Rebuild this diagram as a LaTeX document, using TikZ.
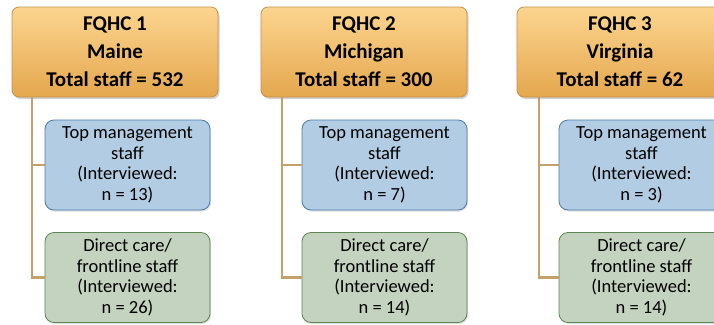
\documentclass[tikz,border=0pt]{standalone}
\usepackage{fontspec}
\setmainfont{Carlito}
\usetikzlibrary{shadows}
\definecolor{hTop}{HTML}{FCD590}
\definecolor{hBot}{HTML}{E4A74E}
\definecolor{hLine}{HTML}{C4924A}
\definecolor{bFill}{HTML}{B2CDE3}
\definecolor{bLine}{HTML}{4A7BAA}
\definecolor{gFill}{HTML}{C3D3BF}
\definecolor{gLine}{HTML}{5E8655}
\definecolor{cLine}{HTML}{C4A06A}
\tikzset{
  hbox/.style={draw=hLine, line width=0.8pt, rounded corners=7pt,
    top color=hTop, bottom color=hBot,
    minimum width=206pt, minimum height=90pt, inner sep=0pt, align=center,
    font=\fontsize{21}{28}\bfseries\selectfont,
    execute at begin node={\rule{0pt}{20pt}},
    drop shadow={shadow xshift=1.5pt, shadow yshift=-2pt, opacity=0.35}},
  subbox/.style={line width=0.8pt, rounded corners=9pt,
    minimum width=165pt, minimum height=90pt, inner sep=0pt, align=center,
    font=\fontsize{18.5}{20.5}\selectfont,
    execute at begin node={\rule{0pt}{19pt}},
    drop shadow={shadow xshift=1pt, shadow yshift=-1.5pt, opacity=0.25}},
  tbox/.style={subbox, draw=bLine, fill=bFill},
  dbox/.style={subbox, draw=gLine, fill=gFill},
  conn/.style={draw=cLine, line width=2.2pt}
}
\begin{document}
\begin{tikzpicture}[x=1pt,y=-1pt]
\useasboundingbox (0,0) rectangle (714,324);
\clip (0,0) rectangle (714,324);
\fill[white] (0,0) rectangle (714,324);

\node[hbox] (h1) at (115,52) {FQHC 1\\Maine\\Total staff = 532};
\node[hbox] (h2) at (364,52) {FQHC 2\\Michigan\\Total staff = 300};
\node[hbox] (h3) at (620,52) {FQHC 3\\Virginia\\Total staff = 62};

\node[tbox] (t1) at (127.5,165) {Top management\\staff\\(Interviewed:\\n = 13)};
\node[dbox] (d1) at (127.5,277.5) {Direct care/\\frontline staff\\(Interviewed:\\n = 26)};
\node[tbox] (t2) at (384.5,165) {Top management\\staff\\(Interviewed:\\n = 7)};
\node[dbox] (d2) at (384.5,277.5) {Direct care/\\frontline staff\\(Interviewed:\\n = 14)};
\node[tbox] (t3) at (641.5,165) {Top management\\staff\\(Interviewed:\\n = 3)};
\node[dbox] (d3) at (641.5,277.5) {Direct care/\\frontline staff\\(Interviewed:\\n = 14)};

\coordinate (c1) at ([xshift=20pt]h1.south west);
\coordinate (c2) at ([xshift=21pt]h2.south west);
\coordinate (c3) at ([xshift=22pt]h3.south west);
\foreach \i in {1,2,3}{
  \draw[conn] (c\i) |- (d\i.west);
  \draw[conn] (c\i |- t\i.west) -- (t\i.west);
}
\end{tikzpicture}
\end{document}
